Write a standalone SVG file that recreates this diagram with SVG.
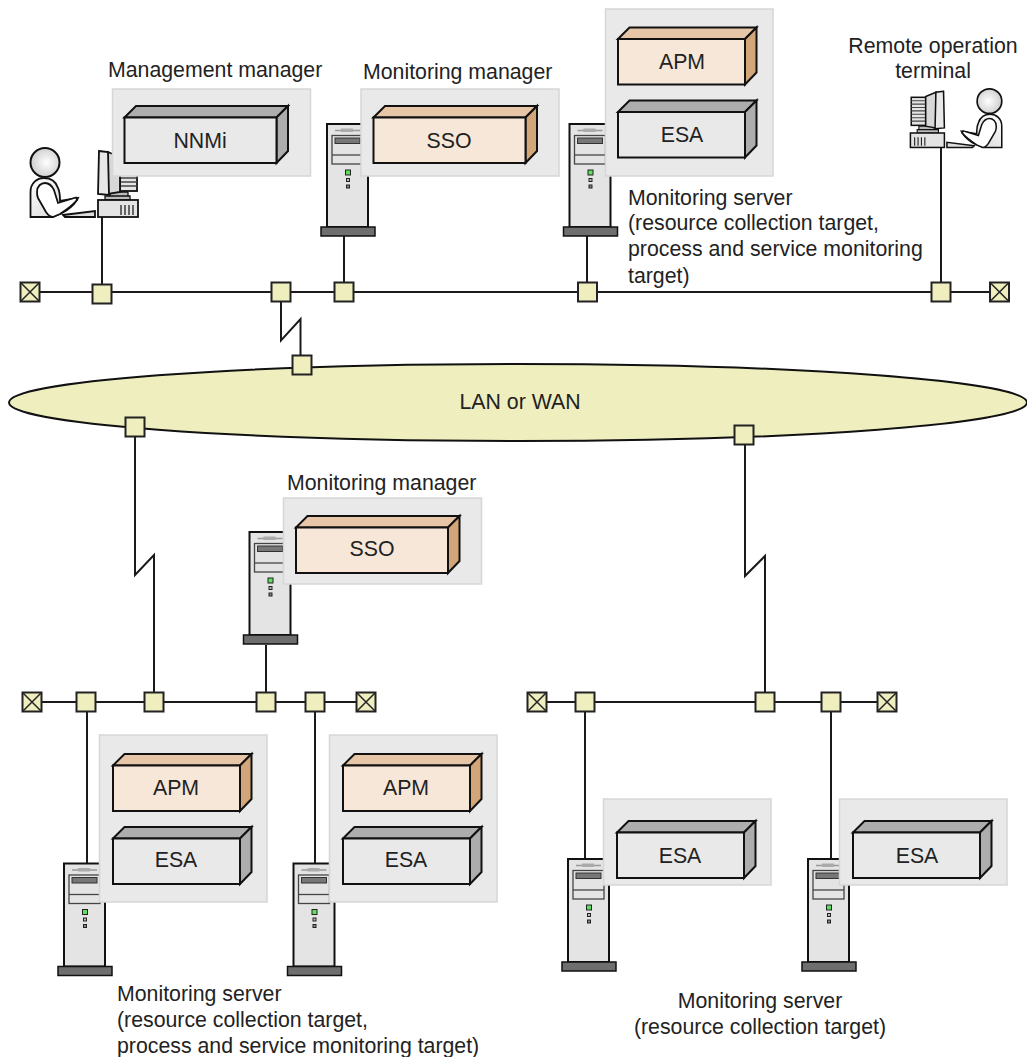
<svg xmlns="http://www.w3.org/2000/svg" width="1027" height="1057" viewBox="0 0 1027 1057">
<style>
text{font-family:"Liberation Sans",Arial,sans-serif;font-size:21.300px;fill:#222}
.m{text-anchor:middle}
.l{fill:none;stroke:#1a1a1a;stroke-width:2}
.p{fill:#e9e9e9;stroke:#d6d6d6;stroke-width:1.500}
.k{stroke:#111;stroke-width:2;stroke-linejoin:miter}
.n{fill:#eeeebf;stroke:#222;stroke-width:2}
.x{fill:none;stroke:#222;stroke-width:1.500}
.t1{fill:#e6c6a6}.f1{fill:#f6e7d8}.s1{fill:#d2a678}
.t2{fill:#adadad}.f2{fill:#e9e9e9}.s2{fill:#adadad}
</style>
<defs>
<radialGradient id="hg" cx="0.55" cy="0.5" r="0.6"><stop offset="0" stop-color="#fff"/><stop offset="1" stop-color="#c9c9c9"/></radialGradient>
<linearGradient id="bg" x1="0" x2="1" y1="0" y2="1"><stop offset="0" stop-color="#fff"/><stop offset="1" stop-color="#d0d0d0"/></linearGradient>
<g id="node"><rect class="n" x="-9.500" y="-9.500" width="19" height="19"/></g>
<g id="term"><rect class="n" x="-9.500" y="-9.500" width="19" height="19"/><path class="x" d="M-9.500-9.500L9.500 9.500M9.500-9.500L-9.500 9.500"/></g>
<g id="box152t"><path class="k t1" d="M0 11.500L11.500 0H163.500L152 11.500Z"/><path class="k s1" d="M152 11.500L163.500 0V45L152 57Z"/><rect class="k f1" x="0" y="11.500" width="152" height="45.500"/></g>
<g id="box152g"><path class="k t2" d="M0 11.500L11.500 0H163.500L152 11.500Z"/><path class="k s2" d="M152 11.500L163.500 0V45L152 57Z"/><rect class="k f2" x="0" y="11.500" width="152" height="45.500"/></g>
<g id="box127t"><path class="k t1" d="M0 11.500L11.500 0H138.500L127 11.500Z"/><path class="k s1" d="M127 11.500L138.500 0V45L127 57Z"/><rect class="k f1" x="0" y="11.500" width="127" height="45.500"/></g>
<g id="box127g"><path class="k t2" d="M0 11.500L11.500 0H138.500L127 11.500Z"/><path class="k s2" d="M127 11.500L138.500 0V45L127 57Z"/><rect class="k f2" x="0" y="11.500" width="127" height="45.500"/></g>
<g id="server">
<rect x="0" y="0" width="41" height="103" fill="#e4e4e4" stroke="#111" stroke-width="2"/>
<path d="M8 6.500H33" stroke="#999" stroke-width="1.500"/><rect x="14" y="4.500" width="12" height="3.500" fill="#aaa"/>
<rect x="5" y="11.500" width="31" height="28.500" fill="#e4e4e4" stroke="#444" stroke-width="1.300"/>
<path d="M5 31H36" stroke="#444" stroke-width="1.300"/>
<rect x="8" y="14" width="25" height="5.500" fill="#777" stroke="#333"/>
<rect x="18.500" y="46" width="5" height="5" fill="#5ee05e" stroke="#222"/>
<rect x="19.500" y="54.500" width="3" height="3" fill="#bbb" stroke="#222"/>
<rect x="19.500" y="61" width="3" height="3" fill="#888" stroke="#222"/>
<rect x="-6" y="103" width="54" height="9" fill="#6e6e6e" stroke="#111" stroke-width="1.500"/>
</g>
<g id="operator">
<path fill="url(#bg)" stroke="#111" stroke-width="1.800" d="M30.500 217V192C30.500 183 37 178 44 178C51 178 56 182 58 188C60 192 60 198 60 201L78 198L77 200C73 206 66 211 62 213L52 217Z"/>
<path fill="#fff" stroke="#111" stroke-width="1.800" d="M37 192C37 186 41 183 45 183C50 183 52 186 54 190L58 203L76 197.500L77 200C72 206 66 210 60 214L53 217C50 217 48 215 46 212L38 198C37 196 37 194 37 192Z"/>
<circle cx="45" cy="162.500" r="14.500" fill="url(#hg)" stroke="#111" stroke-width="2"/>
<path d="M63 215L95 211V217H65Z" fill="#ddd" stroke="#111" stroke-width="1.800"/>
<rect x="120" y="158" width="17" height="33" fill="#e4e4e4" stroke="#111" stroke-width="1.800"/>
<path d="M120 162H137M120 166H137M120 170H137M120 174H137M120 178H137M120 182H137M120 186H137" stroke="#444" stroke-width="1.300"/>
<path d="M105 196H130V200H105Z M110 192H128V196H110Z" fill="#bbb" stroke="#111" stroke-width="1.300"/>
<path d="M108 152L120 157V192L108 194Z" fill="#d8d8d8" stroke="#111" stroke-width="1.800"/>
<path d="M99 151L108 152L109 195L98 194Z" fill="#e8e8e8" stroke="#111" stroke-width="1.800"/>
<rect x="98" y="200" width="40" height="17" fill="#e4e4e4" stroke="#111" stroke-width="1.800"/>
<path d="M121 205V215M125 205V215M129 205V215M133 205V215" stroke="#222" stroke-width="1.300"/>
</g>
</defs>
<rect width="1027" height="1057" fill="#fff"/>

<g id="connectors">
<ellipse id="lan-shape" cx="518" cy="402.500" rx="509" ry="38.500" fill="#eeeebf" stroke="#111" stroke-width="2"/>
<path class="l" d="M30 292H999"/>
<path class="l" d="M32 702H366"/>
<path class="l" d="M537 702H887"/>
<path class="l" d="M102 217V292"/>
<path class="l" d="M344 236V292"/>
<path class="l" d="M587 236V292"/>
<path class="l" d="M941 147V292"/>
<path class="l" d="M281 292V340.500L300.500 319V365"/>
<path class="l" d="M135 427V575L154 555V702"/>
<path class="l" d="M745 435V576L765 556V702"/>
<path class="l" d="M266 645V702"/>
<path class="l" d="M87 702V863"/>
<path class="l" d="M315 702V863"/>
<path class="l" d="M585 702V859"/>
<path class="l" d="M831 702V859"/>
</g>

<g id="lan-label"><text class="m" x="520" y="409">LAN or WAN</text></g>

<g id="junctions">
<use id="t1" href="#term" x="30" y="292"/>
<use id="j1" href="#node" x="102" y="294"/>
<use id="j2" href="#node" x="281" y="292"/>
<use id="j3" href="#node" x="344" y="292"/>
<use id="j4" href="#node" x="587.500" y="292"/>
<use id="j5" href="#node" x="941" y="292"/>
<use id="t2" href="#term" x="999.500" y="292"/>
<use id="j6" href="#node" x="302" y="365"/>
<use id="j7" href="#node" x="135" y="427"/>
<use id="j8" href="#node" x="744" y="435"/>
<use id="t3" href="#term" x="32" y="702"/>
<use id="j9" href="#node" x="86" y="702"/>
<use id="j10" href="#node" x="154" y="702"/>
<use id="j11" href="#node" x="266" y="702"/>
<use id="j12" href="#node" x="315" y="702"/>
<use id="t4" href="#term" x="366" y="702"/>
<use id="t5" href="#term" x="537" y="702"/>
<use id="j13" href="#node" x="585" y="702"/>
<use id="j14" href="#node" x="765" y="702"/>
<use id="j15" href="#node" x="831" y="702"/>
<use id="t6" href="#term" x="887" y="702"/>
</g>

<g id="management-manager">
<use href="#operator"/>
<rect class="p" x="112.500" y="89" width="198" height="87"/>
<use href="#box152g" x="124.500" y="106"/>
<text class="m" x="200" y="148">NNMi</text>
<text x="108" y="77">Management manager</text>
</g>

<g id="monitoring-manager-top">
<use href="#server" x="327" y="124"/>
<rect class="p" x="361" y="89" width="198" height="87"/>
<use href="#box152t" x="373.500" y="106"/>
<text class="m" x="449" y="148">SSO</text>
<text x="363" y="79">Monitoring manager</text>
</g>

<g id="monitoring-server-top">
<use href="#server" x="569.500" y="124"/>
<rect class="p" x="605.500" y="9" width="167.500" height="167"/>
<use href="#box127t" x="618" y="27.500"/>
<text class="m" x="682" y="69">APM</text>
<use href="#box127g" x="618" y="100.500"/>
<text class="m" x="682" y="142">ESA</text>
<text x="628" y="205">Monitoring server</text>
<text x="628" y="230">(resource collection target,</text>
<text x="628" y="256">process and service monitoring</text>
<text x="628" y="283">target)</text>
</g>

<g id="remote-terminal">
<use href="#operator" transform="translate(1027.700 -37) scale(-0.85 0.85)"/>
<text class="m" x="933" y="53">Remote operation</text>
<text class="m" x="933" y="78">terminal</text>
</g>

<g id="monitoring-manager-lower">
<use href="#server" x="249.500" y="532"/>
<rect class="p" x="283.500" y="498" width="198" height="86"/>
<use href="#box152t" x="296" y="516"/>
<text class="m" x="372" y="556">SSO</text>
<text x="287" y="490">Monitoring manager</text>
</g>

<g id="monitoring-server-a">
<use href="#server" x="64" y="863.500"/>
<rect class="p" x="99.500" y="735" width="167.500" height="167"/>
<use href="#box127t" x="113" y="754"/>
<text class="m" x="176" y="795">APM</text>
<use href="#box127g" x="113" y="827"/>
<text class="m" x="176" y="867">ESA</text>
</g>

<g id="monitoring-server-b">
<use href="#server" x="293.500" y="863.500"/>
<rect class="p" x="329.500" y="735" width="167.500" height="167"/>
<use href="#box127t" x="343" y="754"/>
<text class="m" x="406" y="795">APM</text>
<use href="#box127g" x="343" y="827"/>
<text class="m" x="406" y="867">ESA</text>
</g>

<g id="monitoring-server-c">
<use href="#server" x="568" y="859"/>
<rect class="p" x="603.500" y="799" width="167.500" height="86"/>
<use href="#box127g" x="617" y="821"/>
<text class="m" x="680" y="863">ESA</text>
</g>

<g id="monitoring-server-d">
<use href="#server" x="808" y="859"/>
<rect class="p" x="839.500" y="799" width="167.500" height="86"/>
<use href="#box127g" x="853" y="821"/>
<text class="m" x="917" y="863">ESA</text>
</g>

<g id="caption-left">
<text x="117" y="1001">Monitoring server</text>
<text x="117" y="1027">(resource collection target,</text>
<text x="117" y="1053">process and service monitoring target)</text>
</g>
<g id="caption-right">
<text class="m" x="760" y="1008">Monitoring server</text>
<text class="m" x="760" y="1034">(resource collection target)</text>
</g>
</svg>
